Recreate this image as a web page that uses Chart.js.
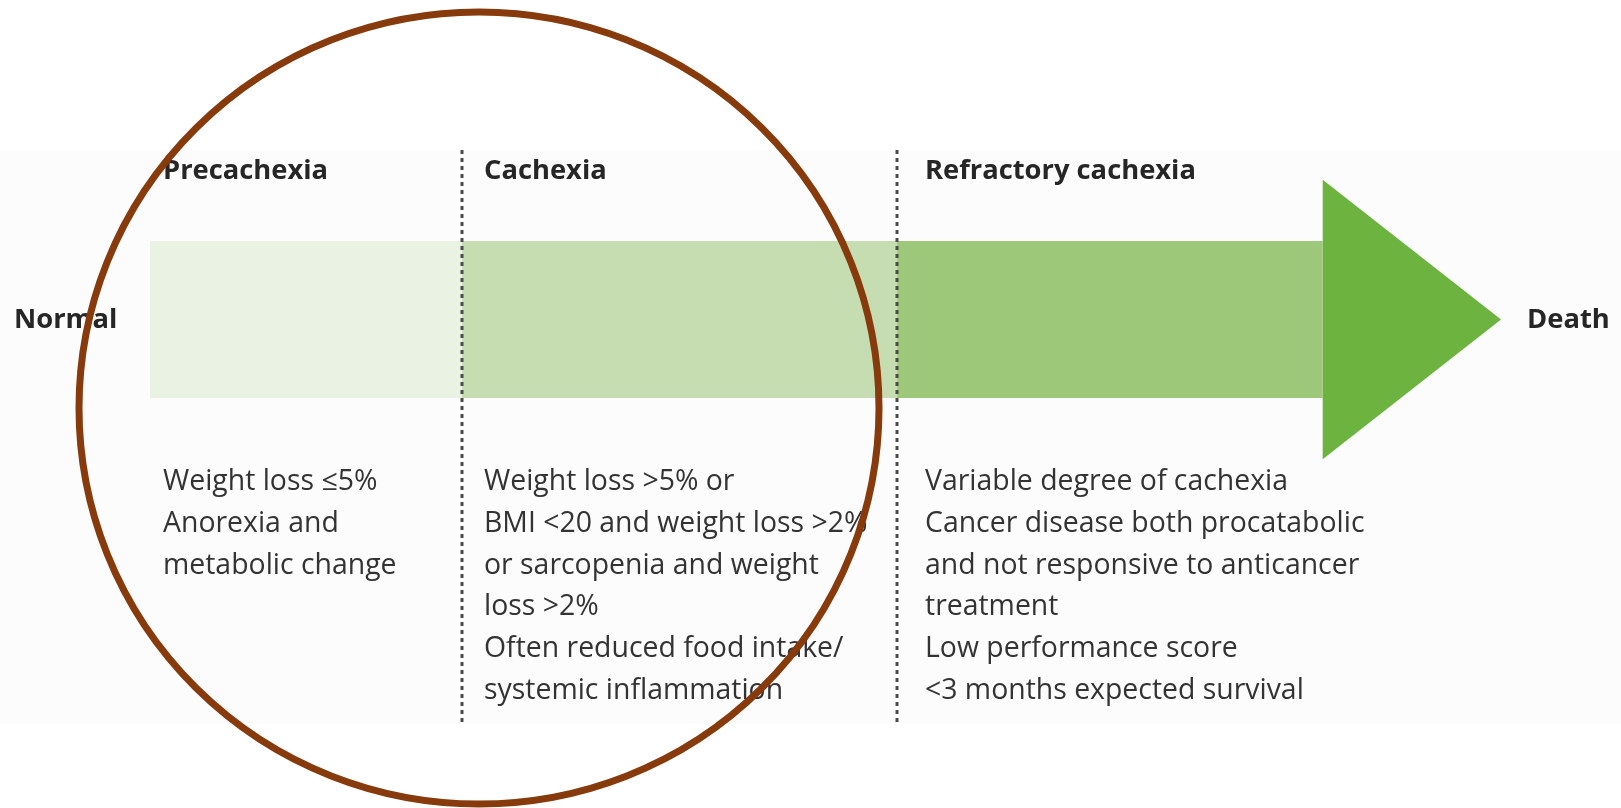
<!DOCTYPE html>
<html>
<head>
<meta charset="utf-8">
<title>Cancer cachexia stages</title>
<script src="https://cdn.jsdelivr.net/npm/chart.js@4.4.1/dist/chart.umd.min.js"></script>
<style>
  html, body { margin: 0; padding: 0; background: #ffffff; }
  #wrap { width: 1621px; height: 808px; position: relative; }
</style>
</head>
<body>
<div id="wrap"><canvas id="chart"></canvas></div>
<script>
// Stages along the progression axis (0 = normal, 100 = death)
const stages = ['Precachexia', 'Cachexia', 'Refractory cachexia'];
const stageStart = [0, 23.1, 55.3];
const stageEnd = [23.1, 55.3, 86.8];
const stageColors = ['#eaf3e3', '#c6ddb1', '#9dc879'];
const arrowTip = 100;
const bandHalf = 1;
const headHalf = 1.78;
const endLabels = ['Normal', 'Death'];

// Criteria listed under each stage
const criteria = [
    ['Weight loss \u22645%', 'Anorexia and', 'metabolic change'],
    ['Weight loss >5% or', 'BMI <20 and weight loss >2%', 'or sarcopenia and weight',
     'loss >2%', 'Often reduced food intake/', 'systemic inflammation'],
    ['Variable degree of cachexia', 'Cancer disease both procatabolic',
     'and not responsive to anticancer', 'treatment', 'Low performance score',
     '<3 months expected survival']
];

// Rectangle polygon for each stage band
function bandPoints(x0, x1) {
    return [
        { x: x0, y: -bandHalf }, { x: x1, y: -bandHalf },
        { x: x1, y: bandHalf }, { x: x0, y: bandHalf }, { x: x0, y: -bandHalf }
    ];
}

const datasets = stages.map((name, i) => ({
    label: name,
    data: bandPoints(stageStart[i], stageEnd[i]),
    showLine: true,
    fill: 'shape',
    backgroundColor: stageColors[i],
    borderColor: 'rgba(0,0,0,0)',
    borderWidth: 0,
    pointRadius: 0,
    tension: 0
}));

datasets.push({
    label: 'Arrowhead',
    data: [
        { x: stageEnd[2], y: headHalf }, { x: arrowTip, y: 0 },
        { x: stageEnd[2], y: -headHalf }, { x: stageEnd[2], y: headHalf }
    ],
    showLine: true,
    fill: 'shape',
    backgroundColor: '#6cb33f',
    borderColor: 'rgba(0,0,0,0)',
    borderWidth: 0,
    pointRadius: 0,
    tension: 0
});

// Fit a font size so a given text spans a given width
function fitSize(ctx, weight, family, text, width) {
    ctx.font = `${weight} 100px ${family}`;
    return 100 * width / ctx.measureText(text).width;
}

const FAMILY = '"Open Sans", "Noto Sans", sans-serif';

const overlay = {
    id: 'overlay',
    beforeDraw(chart) {
        const ctx = chart.ctx;
        ctx.save();
        ctx.fillStyle = '#fcfcfc';
        ctx.fillRect(0, 150, chart.width, 573);
        ctx.restore();
    },
    afterDatasetsDraw(chart) {
        const ctx = chart.ctx;
        const xs = chart.scales.x;
        ctx.save();

        // dashed stage boundaries
        ctx.strokeStyle = '#4a4a4a';
        ctx.lineWidth = 3;
        ctx.setLineDash([4, 4]);
        [stageStart[1], stageStart[2]].forEach(v => {
            const px = Math.round(xs.getPixelForValue(v));
            ctx.beginPath();
            ctx.moveTo(px, 150);
            ctx.lineTo(px, 723);
            ctx.stroke();
        });
        ctx.setLineDash([]);

        const headSize = fitSize(ctx, 'bold', FAMILY, 'Refractory cachexia', 271);
        const bodySize = fitSize(ctx, 'normal', FAMILY, '<3 months expected survival', 379);
        const textX = [163, 484, 925];

        // stage headings
        ctx.fillStyle = '#262626';
        ctx.textBaseline = 'alphabetic';
        ctx.font = `bold ${headSize}px ${FAMILY}`;
        stages.forEach((s, i) => ctx.fillText(s, textX[i], 179));

        // end labels
        ctx.fillText(endLabels[0], 14, 328);
        ctx.fillText(endLabels[1], 1527, 328);

        // criteria text
        ctx.fillStyle = '#333333';
        ctx.font = `normal ${bodySize}px ${FAMILY}`;
        criteria.forEach((lines, i) => {
            lines.forEach((line, j) => ctx.fillText(line, textX[i], 490 + j * 41.8));
        });

        // highlight ellipse
        ctx.strokeStyle = '#873b0d';
        ctx.lineWidth = 7;
        ctx.beginPath();
        ctx.ellipse(479, 408, 400, 396, 0, 0, Math.PI * 2);
        ctx.stroke();

        ctx.restore();
    }
};

new Chart(document.getElementById('chart'), {
    type: 'scatter',
    data: { datasets },
    options: {
        responsive: true,
        maintainAspectRatio: false,
        animation: false,
        layout: { padding: 0 },
        plugins: {
            legend: { display: false },
            tooltip: { enabled: false }
        },
        scales: {
            x: { type: 'linear', display: false, min: -11.103, max: 108.88 },
            y: { type: 'linear', display: false, min: -6.223, max: 4.07 }
        }
    },
    plugins: [overlay]
});
</script>
</body>
</html>
